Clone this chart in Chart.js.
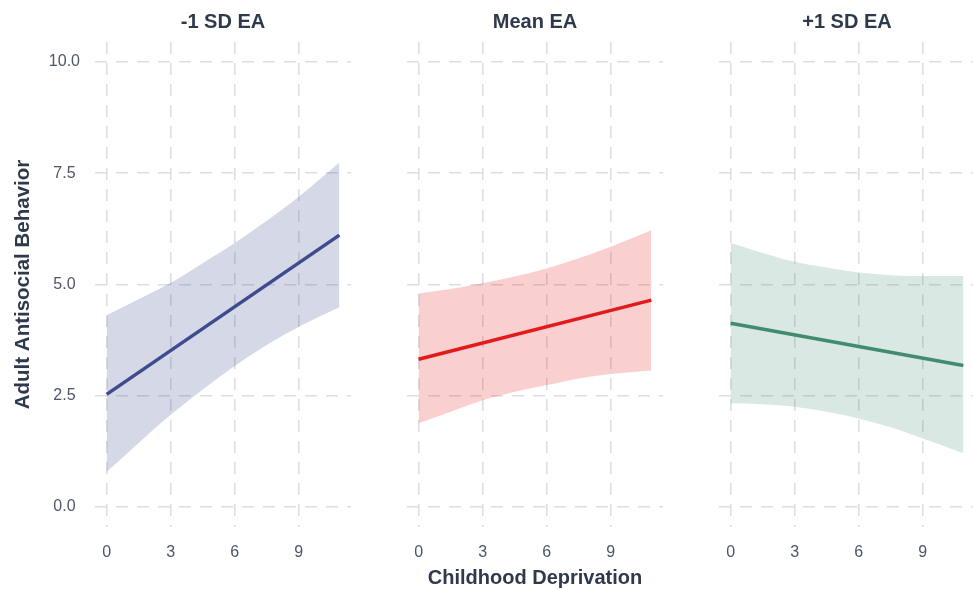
<!DOCTYPE html>
<html><head><meta charset="utf-8">
<script src="https://cdn.jsdelivr.net/npm/chart.js@4.4.0/dist/chart.umd.min.js"></script>
<style>
html,body{margin:0;padding:0;background:#fff;overflow:hidden;width:973px;height:590px;position:relative;}
canvas{position:absolute;top:0;}
</style></head><body>
<canvas id="c1" width="351" height="590" style="left:0px"></canvas>
<canvas id="c2" width="256" height="590" style="left:407px"></canvas>
<canvas id="c3" width="256" height="590" style="left:719px"></canvas>
<script>
const panelTitles = ['-1 SD EA', 'Mean EA', '+1 SD EA'];
const xTitle = 'Childhood Deprivation';
const yTitle = 'Adult Antisocial Behavior';
const xTicks = [0, 3, 6, 9];
const yTicks = [0, 2.5, 5, 7.5, 10];
const yTickLabels = ['0.0', '2.5', '5.0', '7.5', '10.0'];

const lineX = [0, 10.9];
const lineLow = [2.53, 6.11];
const lineMean = [3.32, 4.65];
const lineHigh = [4.13, 3.18];

const bandX = [0, 1.5, 3, 4.5, 6, 7.5, 9, 10.9];
const lowUpper = [4.31, 4.67, 5.04, 5.48, 5.93, 6.43, 6.97, 7.74];
const lowLower = [0.79, 1.44, 2.07, 2.64, 3.17, 3.64, 4.05, 4.49];
const meanUpper = [4.80, 4.90, 5.03, 5.18, 5.36, 5.59, 5.85, 6.22];
const meanLower = [1.88, 2.14, 2.40, 2.59, 2.74, 2.89, 2.99, 3.07];
const highUpper = [5.93, 5.71, 5.51, 5.38, 5.27, 5.21, 5.19, 5.19];
const highLower = [2.33, 2.31, 2.25, 2.14, 1.99, 1.79, 1.54, 1.21];

const FONT = "'Liberation Sans', Arial, sans-serif";
const GRID = '#dedede';
const DASH = [12, 9];
const TICKC = '#4d5666';
const TITLEC = '#2e3a4b';

function makeChart(id, idx, line, upper, lower, lineColor, bandColor) {
  const first = idx === 0;
  const middle = idx === 1;
  new Chart(document.getElementById(id), {
    type: 'line',
    data: {
      datasets: [
        { data: bandX.map((x, i) => ({x, y: upper[i]})), borderColor: 'rgba(0,0,0,0)', borderWidth: 0,
          pointRadius: 0, fill: '+1', backgroundColor: bandColor, tension: 0.4, cubicInterpolationMode: 'monotone', order: 2 },
        { data: bandX.map((x, i) => ({x, y: lower[i]})), borderColor: 'rgba(0,0,0,0)', borderWidth: 0,
          pointRadius: 0, fill: false, tension: 0.4, cubicInterpolationMode: 'monotone', order: 2 },
        { data: lineX.map((x, i) => ({x, y: line[i]})), borderColor: lineColor, borderWidth: 3.5,
          pointRadius: 0, fill: false, order: 1, borderCapStyle: 'butt' }
      ]
    },
    options: {
      responsive: false,
      animation: false,
      events: [],
      layout: { padding: 0 },
      plugins: {
        legend: { display: false },
        tooltip: { enabled: false },
        title: {
          display: true, text: panelTitles[idx], fullSize: false, color: TITLEC,
          font: { family: FONT, size: 20, weight: 'bold', lineHeight: 1.2 },
          padding: { top: 10, bottom: 8 }
        }
      },
      scales: {
        x: {
          type: 'linear', min: -0.545, max: 11.445,
          afterBuildTicks: s => { s.ticks = xTicks.map(v => ({ value: v })); },
          afterFit: s => { s.height = 63; s.paddingLeft = 0; s.paddingRight = 0; },
          ticks: { font: { family: FONT, size: 16 }, color: TICKC, padding: 16, maxRotation: 0, autoSkip: false,
                   callback: v => String(v) },
          grid: { color: GRID, lineWidth: 1.6, drawTicks: false, borderDash: DASH },
          border: { display: false, dash: DASH },
          title: { display: middle, text: xTitle, color: TITLEC,
                   font: { family: FONT, size: 20, weight: 'bold', lineHeight: 1.2 }, padding: { top: 0, bottom: 0 } }
        },
        y: {
          type: 'linear', min: -0.45, max: 10.45,
          afterBuildTicks: s => { s.ticks = yTicks.map(v => ({ value: v })); },
          afterFit: s => { s.width = first ? 95 : 0; s.paddingTop = 0; s.paddingBottom = 0; },
          ticks: { display: first, font: { family: FONT, size: 16 }, color: TICKC, padding: 15, crossAlign: 'center',
                   callback: v => yTickLabels[yTicks.indexOf(v)] },
          grid: { color: GRID, lineWidth: 1.6, drawTicks: false, borderDash: DASH },
          border: { display: false, dash: DASH },
          title: { display: first, text: yTitle, color: TITLEC,
                   font: { family: FONT, size: 20.5, weight: 'bold', lineHeight: 1.2 }, padding: { top: 11, bottom: 0 } }
        }
      }
    }
  });
}

makeChart('c1', 0, lineLow, lowUpper, lowLower, '#3e4b8f', 'rgba(63,77,143,0.22)');
makeChart('c2', 1, lineMean, meanUpper, meanLower, '#e31a1c', 'rgba(228,26,28,0.21)');
makeChart('c3', 2, lineHigh, highUpper, highLower, '#418c6e', 'rgba(65,140,110,0.2)');
</script>
</body></html>
